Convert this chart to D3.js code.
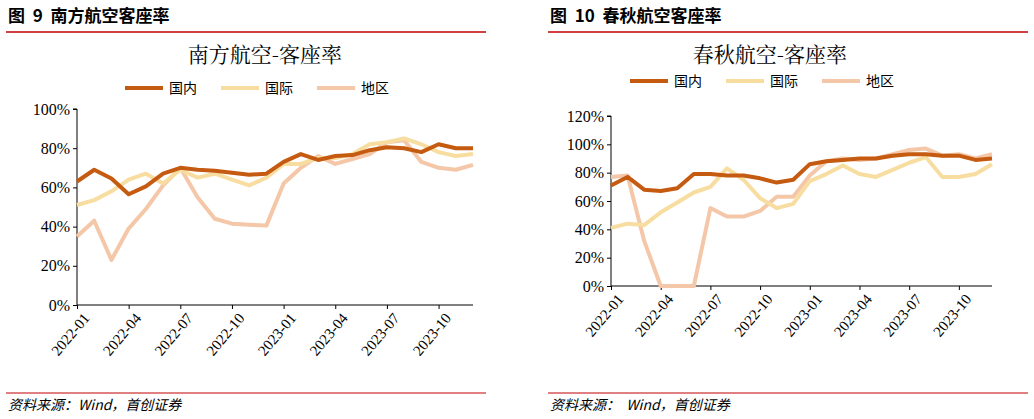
<!DOCTYPE html><html><head><meta charset="utf-8"><script src="https://cdn.jsdelivr.net/npm/d3@7"></script>
<style>body{margin:0;background:#fff;font-family:"Noto Sans CJK SC",sans-serif}.num{font-family:"Liberation Serif",serif !important}</style></head><body><svg id="s" width="1034" height="419"></svg><script>
const months=["2022-01","2022-02","2022-03","2022-04","2022-05","2022-06","2022-07","2022-08","2022-09","2022-10","2022-11","2022-12","2023-01","2023-02","2023-03","2023-04","2023-05","2023-06","2023-07","2023-08","2023-09","2023-10","2023-11","2023-12"];
const tickLabels=["2022-01","2022-04","2022-07","2022-10","2023-01","2023-04","2023-07","2023-10"];
const seriesNames=["国内","国际","地区"];
const csDom=[63,69,64.5,56.5,60.5,67,70,69,68.5,67.5,66.5,67,73,77,74,76,76.5,79,80.5,80,78,82,80,80];
const csIntl=[51,53.5,58,64,67,62,69,65,67,64,61,65,72,72,75,75,77,82,83,85,82,78,76,77];
const csReg=[35,43,23,39,49,61,70,55,44,41.5,41,40.5,62,70,76,72,74.5,77,83,84,73,70,69,71.5];
const sqDom=[71,77,68,67,69,79,79,78,78,76,73,75,86,88,89,90,90,92,93,93,92,92,89,90];
const sqIntl=[41,44,43,52,59,66,70,83,75,62,55,58,74,79,85,79,77,82,87,91,77,77,79,86];
const sqReg=[77,78,32,0,0,0,55,49,49,53,63,63,78,88,90,89,90,93,96,97,92,93,90,93];
const colors=["#C55A11","#F8DDA0","#F4C7A8"];
const svg=d3.select("#s");
function hdr(x,t,src){svg.append("text").attr("x",x).attr("y",22).attr("font-size",17).attr("font-weight","bold").attr("fill","#000").attr("xml:space","preserve").style("white-space","pre").text(t);
svg.append("line").attr("x1",x-2).attr("x2",x+478).attr("y1",32).attr("y2",32).attr("stroke","#C00000").attr("stroke-width",1.5);
svg.append("line").attr("x1",x-2).attr("x2",x+478).attr("y1",393).attr("y2",393).attr("stroke","#C00000").attr("stroke-width",1);
svg.append("text").attr("x",x).attr("y",410).attr("font-size",14).attr("font-style","italic").style("white-space","pre").text(src);}
hdr(8,"图  9  南方航空客座率","资料来源：Wind，首创证券");hdr(550,"图  10  春秋航空客座率","资料来源：  Wind，首创证券");
function chart(o){
 const g=svg.append("g");
 g.append("text").attr("x",o.cx).attr("y",62).attr("text-anchor","middle").attr("font-size",21).style("font-family","'Noto Serif CJK SC','Noto Sans CJK SC',serif").text(o.title);
 const lx=o.cx-140;
 seriesNames.forEach((n,i)=>{const x=lx+i*96;g.append("line").attr("x1",x).attr("x2",x+38).attr("y1",o.ly).attr("y2",o.ly).attr("stroke",colors[i]).attr("stroke-width",4);
 g.append("text").attr("x",x+44).attr("y",o.ly+5).attr("font-size",14).text(n);});
 const x=d3.scalePoint().domain(months).range([o.x0,o.x1]);
 const y=d3.scaleLinear().domain([0,o.max]).range([o.y0,o.y1]);
 g.append("g").attr("transform",`translate(${o.x0},0)`).call(d3.axisLeft(y).tickValues(d3.range(0,o.max+1,20)).tickSize(4).tickFormat(d=>d+"%"))
  .call(a=>{a.selectAll("text").attr("class","num").style("font-size","16px").attr("fill","#000");a.select(".domain").attr("d",`M-4,${o.y1}H0V${o.y0}`);});
 g.append("g").attr("transform",`translate(0,${o.y0})`).call(d3.axisBottom(x).tickValues(tickLabels).tickSize(4).tickSizeOuter(0))
  .call(a=>{a.select(".domain").attr("d",`M${o.x0},0H${o.x1}`);a.selectAll("text").attr("class","num").style("font-size","15px").attr("fill","#000").attr("text-anchor","end").attr("transform","translate(4,6) rotate(-50)").attr("dy","0.3em").attr("dx","0");});
 const line=d3.line().x((d,i)=>x(months[i])).y(d=>y(d));
 [o.reg,o.intl,o.dom].forEach((s,k)=>{const i=2-k;g.append("path").attr("d",line(s)).attr("fill","none").attr("stroke",colors[i]).attr("stroke-width",4).attr("stroke-linejoin","round");});
}
chart({cx:265,ly:88,title:"南方航空-客座率",x0:77,x1:473,y0:305,y1:109,max:100,dom:csDom,intl:csIntl,reg:csReg});
chart({cx:770,ly:81,title:"春秋航空-客座率",x0:611,x1:992,y0:286,y1:116,max:120,dom:sqDom,intl:sqIntl,reg:sqReg});
</script></body></html>
